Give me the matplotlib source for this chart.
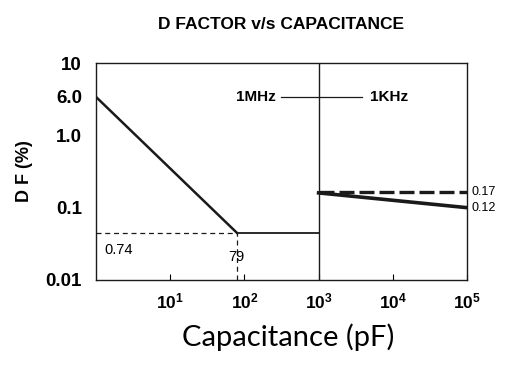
import numpy as np
import matplotlib
matplotlib.use("Agg")
import matplotlib.pyplot as plt

# values (positions on the log axes)
cap_1mhz = [1, 79, 1000]
df_1mhz = [3.4, 0.045, 0.045]
cap_1khz = [1000, 1e5]
df_1khz_solid = [0.16, 0.10]
df_1khz_dash = [0.165, 0.165]
knee_cap = 79
knee_df = 0.045

ytick_vals = [0.01, 0.1, 1.0, 3.4, 10]
ytick_labels = ["0.01", "0.1", "1.0", "6.0", "10"]
xtick_vals = [10, 100, 1000, 1e4, 1e5]
xtick_labels = [r"$\mathbf{10^{1}}$", r"$\mathbf{10^{2}}$", r"$\mathbf{10^{3}}$",
                r"$\mathbf{10^{4}}$", r"$\mathbf{10^{5}}$"]

plt.rcParams["font.family"] = ["Liberation Sans", "DejaVu Sans"]
plt.rcParams["mathtext.fontset"] = "custom"
plt.rcParams["mathtext.bf"] = "Liberation Sans:bold"

fig = plt.figure(figsize=(5.15, 3.67), dpi=100)
ax = fig.add_axes([0.1864, 0.2371, 0.7204, 0.5912])
ax.set_xscale("log")
ax.set_yscale("log")
ax.set_xlim(1, 1e5)
ax.set_ylim(0.01, 10)

# 1 MHz curve
ax.plot(cap_1mhz[:2], df_1mhz[:2], color="#1a1a1a", lw=1.8)
ax.plot(cap_1mhz[1:], df_1mhz[1:], color="#1a1a1a", lw=1.3)
# guides to the knee
ax.plot([1, knee_cap], [knee_df, knee_df], color="#1a1a1a", lw=0.9, ls=(0, (4, 3)))
ax.plot([knee_cap, knee_cap], [0.01, knee_df], color="#1a1a1a", lw=0.9, ls=(0, (4, 3)))
# divider
ax.axvline(1000, color="#1a1a1a", lw=1.0)
# 1 KHz curves
ax.plot(cap_1khz, df_1khz_solid, color="#1a1a1a", lw=2.6)
ax.plot(cap_1khz, df_1khz_dash, color="#1a1a1a", lw=2.4, ls=(0, (4.5, 1.5)))

ax.set_xticks(xtick_vals)
ax.set_xticklabels(xtick_labels, fontsize=12.5)
ax.set_yticks(ytick_vals)
ax.set_yticklabels(ytick_labels, fontsize=13.5, fontweight="bold")
ax.minorticks_off()
ax.tick_params(axis="x", direction="in", length=4, pad=8)
ax.tick_params(axis="y", direction="out", length=0, pad=10)
for s in ax.spines.values():
    s.set_linewidth(1.0)
    s.set_color("#1a1a1a")

# legend-like labels
ax.text(265, 3.4, "1MHz", fontsize=11, fontweight="bold", ha="right", va="center")
ax.plot([316, 3800], [3.4, 3.4], color="#1a1a1a", lw=0.9)
ax.text(5000, 3.4, "1KHz", fontsize=11, fontweight="bold", ha="left", va="center")

ax.text(1.3, knee_df * 0.72, "0.74", fontsize=10.5, ha="left", va="top")
ax.text(knee_cap, 0.026, "79", fontsize=10.5, ha="center", va="top")
ax.text(1.15e5, 0.165, "0.17", fontsize=9, ha="left", va="center", clip_on=False)
ax.text(1.15e5, 0.10, "0.12", fontsize=9, ha="left", va="center", clip_on=False)

fig.text(0.545, 0.932, "D FACTOR v/s CAPACITANCE", fontsize=12.5, fontweight="bold",
         ha="center", va="center")
fig.text(0.048, 0.535, "D F (%)", fontsize=13, fontweight="bold", rotation=90,
         ha="center", va="center")
fig.text(0.56, 0.082, "Capacitance (pF)", fontsize=21, ha="center", va="center",
         family=["Lato", "DejaVu Sans"])

fig.savefig("out.png", dpi=100)
